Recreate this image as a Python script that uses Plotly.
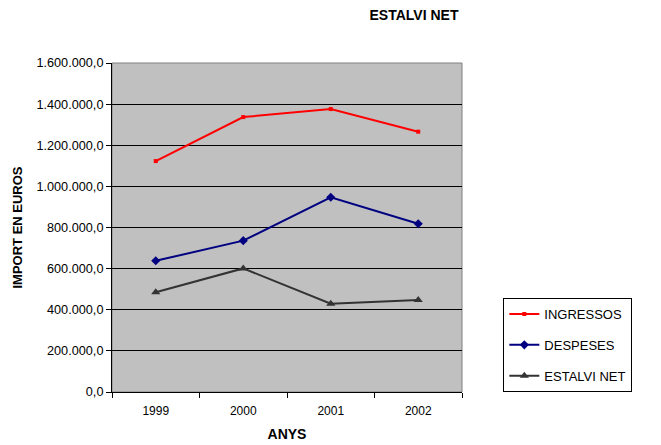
import plotly.graph_objects as go

years = ["1999", "2000", "2001", "2002"]
ingressos = [1123000, 1337000, 1376000, 1266000]
despeses = [638000, 736000, 947000, 818000]
estalvi = [485000, 601000, 429000, 448000]

FONT = "Liberation Sans, Arial, sans-serif"
OFF = 8  # page body offset

fig = go.Figure()
fig.add_trace(go.Scatter(x=years, y=ingressos, name="INGRESSOS", mode="lines+markers",
                         line=dict(color="#FF0000", width=2),
                         marker=dict(symbol="square", size=4, color="#FF0000"),
                         legendgroup="a"))
fig.add_trace(go.Scatter(x=years, y=despeses, name="DESPESES", mode="lines+markers",
                         line=dict(color="#000080", width=2),
                         marker=dict(symbol="diamond", size=7, color="#000080"),
                         legendgroup="b"))
fig.add_trace(go.Scatter(x=years, y=estalvi, name="ESTALVI NET", mode="lines+markers",
                         line=dict(color="#333333", width=2),
                         marker=dict(symbol="triangle-up", size=8, color="#333333"),
                         legendgroup="c"))

fig.update_layout(
    width=661, height=445,
    margin=dict(l=112 - OFF, r=199 + OFF, t=63 - OFF, b=53 + OFF, autoexpand=False),
    paper_bgcolor="white",
    plot_bgcolor="#C0C0C0",
    separators=",.",
    font=dict(family=FONT, size=12, color="black"),
    title=dict(text="<b>ESTALVI NET</b>", x=(414 - OFF) / 661, xanchor="center",
               y=1 - (15 - OFF) / 445, yanchor="middle",
               font=dict(family=FONT, size=14, color="black")),
    showlegend=True,
    legend=dict(x=(503 - 112) / 349.7, xanchor="left", y=(392 - 298) / 329, yanchor="top",
                bordercolor="black", borderwidth=1, bgcolor="white",
                font=dict(family=FONT, size=13, color="black"),
                itemwidth=30,
                tracegroupgap=11, traceorder="grouped"),
)
fig.update_xaxes(
    type="category", range=[-0.5, 3.5], automargin=False,
    showline=True, linecolor="black", linewidth=1,
    ticks="outside", ticklen=5, tickcolor="black", tickson="boundaries",
    ticklabelstandoff=8,
    showgrid=False, zeroline=False,
    tickfont=dict(family=FONT, size=12),
    title=dict(text="<b>ANYS</b>", font=dict(family=FONT, size=14), standoff=11),
)
fig.update_yaxes(
    range=[0, 1600000], dtick=200000, tickformat=",.1f", automargin=False,
    showline=True, linecolor="black", linewidth=1,
    ticks="outside", ticklen=5, tickcolor="black",
    showgrid=True, gridcolor="black", gridwidth=1, zeroline=False,
    tickfont=dict(family=FONT, size=12.7),
    title=dict(text="<b>IMPORT EN EUROS</b>", font=dict(family=FONT, size=13), standoff=10),
)
fig.add_shape(type="rect", xref="paper", yref="paper", x0=0, x1=1, y0=0, y1=1,
              line=dict(color="#808080", width=1), layer="below")

fig.write_html("out.html")
